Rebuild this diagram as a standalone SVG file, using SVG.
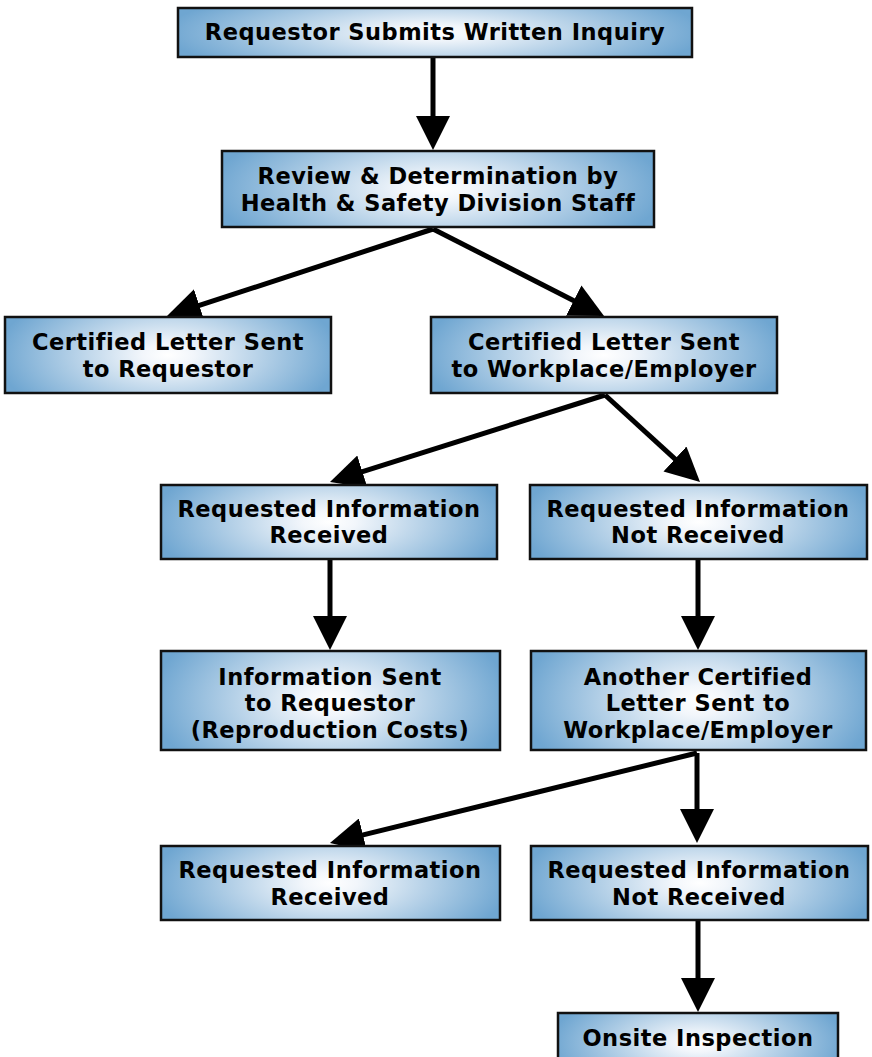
<svg xmlns="http://www.w3.org/2000/svg" width="872" height="1057" viewBox="0 0 872 1057">
<defs>
<radialGradient id="g" cx="0.5" cy="0.5" r="0.5" gradientTransform="translate(0.5,0.5) scale(1.05,2) translate(-0.5,-0.5)">
<stop offset="0" stop-color="#ffffff"/>
<stop offset="0.15" stop-color="#f2f6fb"/>
<stop offset="1" stop-color="#6fa6d1"/>
</radialGradient>
<marker id="ah" markerUnits="userSpaceOnUse" markerWidth="34" markerHeight="34" viewBox="0 0 34 34" refX="4" refY="17" orient="auto">
<path d="M0,0 L34,17 L0,34 Z" fill="#000"/>
</marker>
<style>
.box{fill:url(#g);stroke:#111;stroke-width:2.5}
.t{font-family:"DejaVu Sans",Verdana,sans-serif;font-weight:bold;font-size:22.5px;letter-spacing:0.5px;fill:#000;text-anchor:middle}
.c{stroke:#000;stroke-width:5;fill:none;marker-end:url(#ah)}
</style>
</defs>
<rect width="872" height="1057" fill="#fff"/>
<g id="connectors">
<path class="c" d="M433,57 L433,120"/>
<path class="c" d="M433,229 L195.5,306.7"/>
<path class="c" d="M433,229 L577.3,302.4"/>
<path class="c" d="M605,395 L358.6,472.9"/>
<path class="c" d="M605,395 L677.9,461.7"/>
<path class="c" d="M330,559 L330,620"/>
<path class="c" d="M698,559 L698,620"/>
<path class="c" d="M697,753 L359.1,835.9"/>
<path class="c" d="M697,753 L697,813"/>
<path class="c" d="M698,920 L698,982"/>
</g>
<g id="n1"><rect class="box" x="178" y="8" width="514" height="49"/><text class="t" x="435" y="40">Requestor Submits Written Inquiry</text></g>
<g id="n2"><rect class="box" x="222" y="151" width="432" height="76"/><text class="t" x="438" y="184">Review &amp; Determination by</text><text class="t" x="438" y="211">Health &amp; Safety Division Staff</text></g>
<g id="n3"><rect class="box" x="5" y="317" width="326" height="76"/><text class="t" x="168" y="350">Certified Letter Sent</text><text class="t" x="168" y="377">to Requestor</text></g>
<g id="n4"><rect class="box" x="431" y="317" width="346" height="76"/><text class="t" x="604" y="350">Certified Letter Sent</text><text class="t" x="604" y="377">to Workplace/Employer</text></g>
<g id="n5"><rect class="box" x="161" y="485" width="336" height="74"/><text class="t" x="329" y="517">Requested Information</text><text class="t" x="329" y="543">Received</text></g>
<g id="n6"><rect class="box" x="530" y="485" width="337" height="74"/><text class="t" x="698" y="517">Requested Information</text><text class="t" x="698" y="543">Not Received</text></g>
<g id="n7"><rect class="box" x="161" y="651" width="339" height="99"/><text class="t" x="330" y="685">Information Sent</text><text class="t" x="330" y="711">to Requestor</text><text class="t" x="330" y="738">(Reproduction Costs)</text></g>
<g id="n8"><rect class="box" x="531" y="651" width="335" height="99"/><text class="t" x="698" y="685">Another Certified</text><text class="t" x="698" y="711">Letter Sent to</text><text class="t" x="698" y="738">Workplace/Employer</text></g>
<g id="n9"><rect class="box" x="161" y="846" width="339" height="74"/><text class="t" x="330" y="878">Requested Information</text><text class="t" x="330" y="905">Received</text></g>
<g id="n10"><rect class="box" x="531" y="846" width="337" height="74"/><text class="t" x="699" y="878">Requested Information</text><text class="t" x="699" y="905">Not Received</text></g>
<g id="n11"><rect class="box" x="558" y="1013" width="280" height="60"/><text class="t" x="698" y="1046">Onsite Inspection</text></g>
</svg>
